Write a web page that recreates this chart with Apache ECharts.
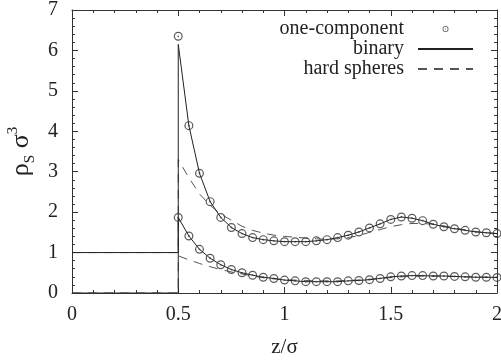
<!DOCTYPE html>
<html>
<head>
<meta charset="utf-8">
<script src="https://cdn.jsdelivr.net/npm/echarts@6/dist/echarts.min.js"></script>
<style>
  html, body { margin: 0; padding: 0; background: #fff; }
  #chart { width: 501px; height: 360px; }
</style>
</head>
<body>
<div id="chart"></div>
<script>
// z positions of the sampled points
const zValues = [0.5, 0.55, 0.6, 0.65, 0.7, 0.75, 0.8, 0.85, 0.9, 0.95,
  1.0, 1.05, 1.1, 1.15, 1.2, 1.25, 1.3, 1.35, 1.4, 1.45,
  1.5, 1.55, 1.6, 1.65, 1.7, 1.75, 1.8, 1.85, 1.9, 1.95, 2.0];

// one-component (markers)
const oneUpper = [6.35, 4.14, 2.96, 2.26, 1.87, 1.62, 1.47, 1.37, 1.32, 1.29,
  1.27, 1.27, 1.27, 1.29, 1.32, 1.37, 1.43, 1.51, 1.61, 1.71,
  1.82, 1.88, 1.85, 1.79, 1.70, 1.64, 1.59, 1.55, 1.51, 1.49, 1.47];
const oneLower = [1.87, 1.41, 1.08, 0.86, 0.70, 0.58, 0.50, 0.44, 0.39, 0.36,
  0.32, 0.30, 0.28, 0.28, 0.28, 0.28, 0.30, 0.31, 0.33, 0.36,
  0.40, 0.42, 0.43, 0.43, 0.42, 0.42, 0.41, 0.40, 0.39, 0.39, 0.385];

// binary (solid)
const binaryUpper = [6.15, 4.14, 2.96, 2.26, 1.87, 1.62, 1.47, 1.37, 1.32, 1.29,
  1.27, 1.27, 1.27, 1.29, 1.32, 1.37, 1.43, 1.51, 1.61, 1.71,
  1.82, 1.88, 1.85, 1.79, 1.70, 1.64, 1.59, 1.55, 1.51, 1.49, 1.47];
const binaryLower = [1.87, 1.41, 1.08, 0.86, 0.70, 0.58, 0.50, 0.44, 0.39, 0.36,
  0.32, 0.30, 0.28, 0.28, 0.28, 0.28, 0.30, 0.31, 0.33, 0.36,
  0.40, 0.42, 0.43, 0.43, 0.42, 0.42, 0.41, 0.40, 0.39, 0.39, 0.385];

// hard spheres (dashed)
const hardUpper = [3.3, 2.85, 2.45, 2.17, 1.95, 1.8, 1.65, 1.55, 1.48, 1.43,
  1.4, 1.38, 1.36, 1.34, 1.33, 1.34, 1.37, 1.42, 1.5, 1.57,
  1.64, 1.69, 1.72, 1.72, 1.7, 1.66, 1.61, 1.56, 1.52, 1.49, 1.47];
const hardLower = [0.92, 0.82, 0.73, 0.65, 0.58, 0.52, 0.47, 0.42, 0.38, 0.35,
  0.33, 0.32, 0.31, 0.3, 0.3, 0.3, 0.31, 0.32, 0.34, 0.36,
  0.38, 0.4, 0.41, 0.42, 0.42, 0.42, 0.41, 0.4, 0.4, 0.39, 0.39];

// bulk region z < 0.5 and the wall at z = 0.5
const bulkZ = [0, 0.5];
const bulkUpper = [1, 1];
const bulkLower = [0, 0];

const xTicks = { min: 0, max: 2, interval: 0.5 };
const yTicks = { min: 0, max: 7, interval: 1 };

const pair = (xs, ys) => xs.map((x, i) => [x, ys[i]]);
const withBulk = (bulk, ys) => pair(bulkZ, bulk).concat(pair(zValues, ys));

const chart = echarts.init(document.getElementById('chart'));

const serif = 'Liberation Serif, Times New Roman, serif';
const ink = '#222';
const ring = 'path://M0,-4A4,4 0 1,1 0,4A4,4 0 1,1 0,-4Z' +
  'M0,-2.9A2.9,2.9 0 1,0 0,2.9A2.9,2.9 0 1,0 0,-2.9Z' +
  'M0,-0.8A0.8,0.8 0 1,1 0,0.8A0.8,0.8 0 1,1 0,-0.8Z';

const axisCommon = {
  axisLine: { show: true, onZero: false, lineStyle: { color: '#333', width: 1 } },
  axisTick: { show: true, inside: true, length: 6, lineStyle: { color: '#333' } },
  minorTick: { show: true, splitNumber: 5, length: 3, lineStyle: { color: '#333' } },
  splitLine: { show: false },
};

const solidLine = (data) => ({
  name: 'binary', type: 'line', data, symbol: 'none', z: 3,
  lineStyle: { color: ink, width: 1 },
  itemStyle: { color: ink },
});
const dashedLine = (data) => ({
  name: 'hard spheres', type: 'line', data, symbol: 'none', z: 2,
  lineStyle: { color: '#555', width: 1, type: [9, 7] },
  itemStyle: { color: '#555' },
});
const markers = (data) => ({
  name: 'one-component', type: 'scatter', data, symbol: ring, symbolSize: 9, z: 4,
  itemStyle: { color: '#333' },
});

chart.setOption({
  animation: false,
  backgroundColor: '#fff',
  grid: { left: 72, right: 4, top: 10, bottom: 67, outerBoundsMode: 'none' },
  legend: {
    orient: 'vertical', right: 22, top: 14, align: 'right',
    itemWidth: 55, itemHeight: 6, itemGap: 0,
    data: [
      { name: 'one-component' },
      { name: 'binary', itemStyle: { opacity: 0 } },
      { name: 'hard spheres', itemStyle: { opacity: 0 } },
    ],
    textStyle: { fontFamily: serif, fontSize: 20, color: ink, padding: [0, 9, 0, 0] },
  },
  xAxis: [
    Object.assign({
      type: 'value', position: 'bottom', ...xTicks,
      name: 'z/σ', nameLocation: 'middle', nameGap: 44,
      nameTextStyle: { fontFamily: serif, fontSize: 21, color: ink },
      axisLabel: { fontFamily: serif, fontSize: 20, color: ink, margin: 12 },
    }, axisCommon),
    Object.assign({
      type: 'value', position: 'top', ...xTicks,
      axisLabel: { show: false },
    }, axisCommon),
  ],
  yAxis: [
    Object.assign({
      type: 'value', position: 'left', ...yTicks,
      name: '{r|ρ}{s|S}{r| σ}{p|3}', nameLocation: 'middle', nameGap: 34, nameRotate: 90,
      nameTextStyle: {
        fontFamily: serif, color: ink,
        rich: {
          r: { fontFamily: serif, fontSize: 26, lineHeight: 32, color: ink },
          s: { fontFamily: serif, fontSize: 15, lineHeight: 15, color: ink, verticalAlign: 'bottom' },
          p: { fontFamily: serif, fontSize: 15, lineHeight: 15, color: ink, verticalAlign: 'top' },
        },
      },
      axisLabel: { fontFamily: serif, fontSize: 20, color: ink, margin: 14 },
    }, axisCommon),
    Object.assign({
      type: 'value', position: 'right', ...yTicks,
      axisLabel: { show: false },
    }, axisCommon),
  ],
  series: [
    markers(pair(zValues, oneUpper)),
    markers(pair(zValues, oneLower)),
    solidLine(withBulk(bulkUpper, binaryUpper)),
    solidLine(withBulk(bulkLower, binaryLower)),
    dashedLine(withBulk(bulkUpper, hardUpper)),
    dashedLine(withBulk(bulkLower, hardLower)),
  ],
});
</script>
</body>
</html>
